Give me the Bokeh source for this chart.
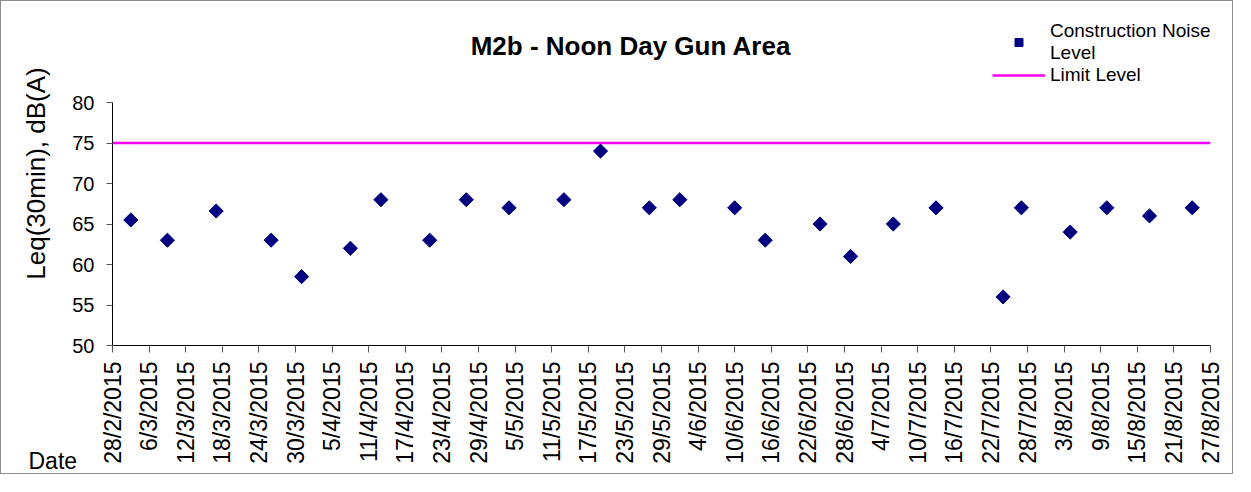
from math import pi
from datetime import datetime
from bokeh.plotting import figure
from bokeh.models import Range1d, FixedTicker, Label, Legend, LegendItem, Title
from bokeh.embed import file_html
from bokeh.resources import INLINE

# ---------------- data ----------------
title_text = "M2b - Noon Day Gun Area"
y_label = "Leq(30min), dB(A)"
x_label = "Date"

tick_labels = ["28/2/2015", "6/3/2015", "12/3/2015", "18/3/2015", "24/3/2015",
               "30/3/2015", "5/4/2015", "11/4/2015", "17/4/2015", "23/4/2015",
               "29/4/2015", "5/5/2015", "11/5/2015", "17/5/2015", "23/5/2015",
               "29/5/2015", "4/6/2015", "10/6/2015", "16/6/2015", "22/6/2015",
               "28/6/2015", "4/7/2015", "10/7/2015", "16/7/2015", "22/7/2015",
               "28/7/2015", "3/8/2015", "9/8/2015", "15/8/2015", "21/8/2015",
               "27/8/2015"]

dates = ["3/3/2015", "9/3/2015", "17/3/2015", "26/3/2015", "31/3/2015",
         "8/4/2015", "13/4/2015", "21/4/2015", "27/4/2015", "4/5/2015",
         "13/5/2015", "19/5/2015", "27/5/2015", "1/6/2015", "10/6/2015",
         "15/6/2015", "24/6/2015", "29/6/2015", "6/7/2015", "13/7/2015",
         "24/7/2015", "27/7/2015", "4/8/2015", "10/8/2015", "17/8/2015",
         "24/8/2015"]
noise = [65.5, 63, 66.6, 63, 58.5, 62, 68, 63, 68, 67,
         68, 74, 67, 68, 67, 63, 65, 61, 65, 67,
         56, 67, 64, 67, 66, 67]
limit_level = 75
y_ticks = [50, 55, 60, 65, 70, 75, 80]

legend_noise = "Construction Noise\nLevel"
legend_limit = "Limit Level"

# ---------------- helpers ----------------
def parse(s):
    return datetime.strptime(s, "%d/%m/%Y")

EPOCH = datetime(1970, 1, 1)
def to_ms(d):
    return (d - EPOCH).total_seconds() * 1000.0

tick_dt = [parse(s) for s in tick_labels]
tick_ms = [to_ms(d) for d in tick_dt]
x_pts = [parse(s) for s in dates]

FONT = "Liberation Sans"
NAVY = "#000080"

W, H = 1233, 474
BL, BR, BB = 111, 24, 130
frame_h = H - BB                      # frame reaches the top of the canvas
px_per_unit = 243.0 / (y_ticks[-1] - y_ticks[0])
y_top = y_ticks[0] + frame_h / px_per_unit

p = figure(width=W, height=H, x_axis_type="datetime",
           x_range=Range1d(tick_dt[0], tick_dt[-1]),
           y_range=Range1d(y_ticks[0], y_top),
           output_backend="svg", toolbar_location=None,
           min_border_left=BL, min_border_right=BR,
           min_border_top=0, min_border_bottom=BB)
p.title.visible = False
p.styles = {"border": "1px solid #8c8c8c"}

p.outline_line_color = None
p.xgrid.visible = False
p.ygrid.visible = False
p.background_fill_color = "white"
p.border_fill_color = "white"

# x axis
xa = p.xaxis[0]
xa.ticker = FixedTicker(ticks=tick_ms)
xa.major_label_overrides = {ms: lab for ms, lab in zip(tick_ms, tick_labels)}
xa.major_label_orientation = pi / 2
xa.major_label_text_font = FONT
xa.major_label_text_font_size = "23px"
xa.major_label_text_color = "black"
xa.major_tick_out = 7
xa.major_tick_in = 0
xa.minor_tick_out = 0
xa.minor_tick_in = 0
xa.major_tick_line_color = "#555555"
xa.axis_line_color = "black"
xa.major_label_standoff = 9

# y axis (line and ticks only from 50 to 80)
ya = p.yaxis[0]
ya.bounds = (y_ticks[0], y_ticks[-1])
ya.ticker = FixedTicker(ticks=y_ticks)
ya.axis_label = y_label
ya.axis_label_text_font = FONT
ya.axis_label_text_font_size = "26px"
ya.axis_label_text_font_style = "normal"
ya.axis_label_text_color = "black"
ya.axis_label_standoff = 18
ya.major_label_text_font = FONT
ya.major_label_text_font_size = "20px"
ya.major_label_text_color = "black"
ya.major_tick_out = 6
ya.major_tick_in = 0
ya.minor_tick_out = 0
ya.minor_tick_in = 0
ya.major_tick_line_color = "#555555"
ya.axis_line_color = "black"
ya.major_label_standoff = 12

# glyphs
ln = p.line(x=[tick_dt[0], tick_dt[-1]], y=[limit_level, limit_level],
            line_color="#FF00FF", line_width=2.5)
sc = p.scatter(x=x_pts, y=noise, marker="square", angle=pi / 4, size=10,
               fill_color=NAVY, line_color=NAVY)

# legend (inside the tall frame, above the 80 level)
legend = Legend(items=[LegendItem(label=legend_noise, renderers=[sc]),
                       LegendItem(label=legend_limit, renderers=[ln])],
                location=(880, 259), orientation="vertical",
                border_line_color=None, background_fill_alpha=0,
                padding=0, margin=0, spacing=0,
                glyph_width=53, glyph_height=20, label_height=20,
                label_standoff=5,
                label_text_font=FONT, label_text_font_size="19px",
                label_text_line_height=1.15, label_text_color="black")
p.add_layout(legend)

# chart title
p.add_layout(Label(x=518.5, y=300, x_units="screen", y_units="screen",
                   text=title_text, text_align="center", text_baseline="alphabetic",
                   text_font=FONT, text_font_style="bold", text_font_size="26px",
                   text_color="black"))

# "Date" caption at the lower left, as a title in the panel below the x axis
date_title = Title(text=x_label, align="left", vertical_align="top",
                   offset=-84, text_font=FONT, text_font_size="23px",
                   text_font_style="normal", text_color="black")
try:
    date_title.standoff = -37
except Exception:
    date_title.standoff = 0
p.add_layout(date_title, "below")

open("out.html", "w").write(file_html(p, INLINE))
